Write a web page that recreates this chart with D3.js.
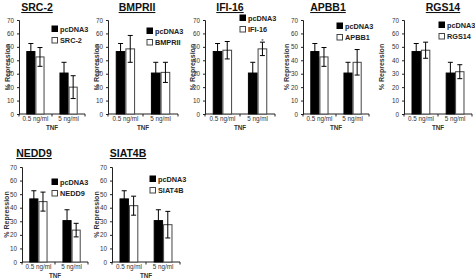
<!DOCTYPE html>
<html>
<head>
<meta charset="utf-8">
<script src="https://cdn.jsdelivr.net/npm/d3@7"></script>
<style>
  body { margin: 0; background: #fff; }
  text { font-family: "Liberation Sans", Arial, sans-serif; }
</style>
</head>
<body>
<svg id="chart" width="475" height="279"></svg>
<script>
// values
const genes = ["SRC-2", "BMPRII", "IFI-16", "APBB1", "RGS14", "NEDD9", "SIAT4B"];
const doses = ["0.5 ng/ml", "5 ng/ml"];
const ctrlName = "pcDNA3";
const ctrlMean = [46.5, 30.5];
const ctrlErr = [6, 8];
const geneMean = [[42.5, 20], [48.5, 31], [47.5, 48.5], [42.5, 38.5], [47.5, 31.5], [44.5, 23.5], [41.5, 27.5]];
const geneErr = [[7, 8.5], [10, 7.5], [6.5, 5], [7, 9.5], [6, 5.2], [7, 5], [7, 9.8]];
const starred = [[false, false], [false, false], [false, true], [false, false], [false, false], [false, false], [false, false]];
const yTicks = [0, 10, 20, 30, 40, 50, 60, 70];
const xTitle = "TNF";
const yTitle = "% Repression";

// panel placement
const layout = [
    { ax: 19, w: 66, top: 20, bot: 114, tx: 37, ty: 11, lx: 52, ly: 26, yl: 8 },
    { ax: 108, w: 70, top: 20, bot: 114, tx: 137, ty: 11, lx: 147, ly: 28, yl: 97 },
    { ax: 205, w: 70, top: 20, bot: 114, tx: 230, ty: 11, lx: 240, ly: 15, yl: 193 },
    { ax: 303, w: 66, top: 20, bot: 114, tx: 328, ty: 11, lx: 337, ly: 23, yl: 287 },
    { ax: 404, w: 68, top: 20, bot: 114, tx: 443, ty: 11, lx: 439, ly: 22, yl: 382 },
    { ax: 22, w: 66, top: 167, bot: 262, tx: 34, ty: 157, lx: 52, ly: 179, yl: 7 },
    { ax: 112, w: 68, top: 167, bot: 262, tx: 128, ty: 157, lx: 150, ly: 176, yl: 97 }
];

const svg = d3.select("#chart");

genes.forEach((gene, i) => {
    const L = layout[i];
    const g = svg.append("g");

    const y = d3.scaleLinear().domain([0, 70]).range([L.bot, L.top]);
    const x = d3.scaleBand().domain(doses).range([L.ax, L.ax + L.w])
        .paddingInner(0.45).paddingOuter(0.22);
    const sub = d3.scaleBand().domain(["ctrl", "gene"]).range([0, x.bandwidth()]);

    const rows = doses.map((d, j) => ([
        { dose: d, key: "ctrl", v: ctrlMean[j], e: ctrlErr[j], star: false },
        { dose: d, key: "gene", v: geneMean[i][j], e: geneErr[i][j], star: starred[i][j] }
    ])).flat();

    // y axis
    const yAxis = g.append("g")
        .attr("transform", `translate(${L.ax},0)`)
        .call(d3.axisLeft(y).tickValues(yTicks).tickSize(2).tickPadding(3));
    yAxis.select(".domain").attr("stroke", "#222");
    yAxis.selectAll(".tick line").attr("stroke", "#222");
    yAxis.selectAll("text").attr("font-size", 6.3).attr("fill", "#333");

    // x axis line with boundary ticks
    g.append("line")
        .attr("x1", L.ax).attr("x2", L.ax + L.w)
        .attr("y1", L.bot).attr("y2", L.bot)
        .attr("stroke", "#222");
    [L.ax, L.ax + L.w / 2, L.ax + L.w].forEach(t => {
        g.append("line").attr("x1", t).attr("x2", t)
            .attr("y1", L.bot).attr("y2", L.bot + 2.5).attr("stroke", "#222");
    });
    g.selectAll(".xlab").data(doses).join("text")
        .attr("class", "xlab")
        .attr("x", d => x(d) + x.bandwidth() / 2)
        .attr("y", L.bot + 7)
        .attr("text-anchor", "middle")
        .attr("font-size", 6.3).attr("fill", "#333")
        .text(d => d);
    g.append("text")
        .attr("x", L.ax + L.w / 2).attr("y", L.bot + 15.5)
        .attr("text-anchor", "middle")
        .attr("font-size", 6.3).attr("font-weight", "bold").attr("fill", "#333")
        .text(xTitle);

    // y title
    g.append("text")
        .attr("transform", `translate(${L.yl},${(L.top + L.bot) / 2}) rotate(-90)`)
        .attr("text-anchor", "middle")
        .attr("dy", "0.35em")
        .attr("font-size", 7).attr("font-weight", "bold").attr("fill", "#333")
        .text(yTitle);

    // bars
    g.selectAll(".bar").data(rows).join("rect")
        .attr("class", "bar")
        .attr("x", d => x(d.dose) + sub(d.key) + 0.5)
        .attr("y", d => y(d.v))
        .attr("width", sub.bandwidth() - 1)
        .attr("height", d => y(0) - y(d.v))
        .attr("fill", d => d.key === "ctrl" ? "#000" : "#fff")
        .attr("stroke", d => d.key === "ctrl" ? "#000" : "#444")
        .attr("stroke-width", 1);

    // error bars
    const cx = d => x(d.dose) + sub(d.key) + sub.bandwidth() / 2;
    const err = g.selectAll(".err").data(rows).join("g").attr("class", "err");
    err.append("line")
        .attr("x1", cx).attr("x2", cx)
        .attr("y1", d => y(d.v - d.e)).attr("y2", d => y(d.v + d.e))
        .attr("stroke", "#000");
    err.append("line")
        .attr("x1", d => cx(d) - 2.5).attr("x2", d => cx(d) + 2.5)
        .attr("y1", d => y(d.v + d.e)).attr("y2", d => y(d.v + d.e))
        .attr("stroke", "#000");
    err.append("line")
        .attr("x1", d => cx(d) - 2.5).attr("x2", d => cx(d) + 2.5)
        .attr("y1", d => y(d.v - d.e)).attr("y2", d => y(d.v - d.e))
        .attr("stroke", "#000");

    g.selectAll(".star").data(rows.filter(d => d.star)).join("text")
        .attr("class", "star")
        .attr("x", cx)
        .attr("y", d => y(d.v + d.e) + 1)
        .attr("text-anchor", "middle")
        .attr("font-size", 6).attr("fill", "#333")
        .text("*");

    // legend
    const leg = [ctrlName, gene];
    leg.forEach((name, k) => {
        g.append("rect")
            .attr("x", L.lx).attr("y", L.ly + k * 11.5)
            .attr("width", 5.5).attr("height", 5.5)
            .attr("fill", k === 0 ? "#000" : "#fff")
            .attr("stroke", k === 0 ? "#000" : "#444");
        g.append("text")
            .attr("x", L.lx + 8).attr("y", L.ly + k * 11.5 + 5.5)
            .attr("font-size", 7.3).attr("font-weight", "bold").attr("fill", "#222")
            .text(name);
    });

    // title
    g.append("text")
        .attr("x", L.tx).attr("y", L.ty)
        .attr("text-anchor", "middle")
        .attr("font-size", 10.5).attr("font-weight", "bold")
        .attr("text-decoration", "underline")
        .attr("fill", "#111")
        .text(gene);
});
</script>
</body>
</html>
